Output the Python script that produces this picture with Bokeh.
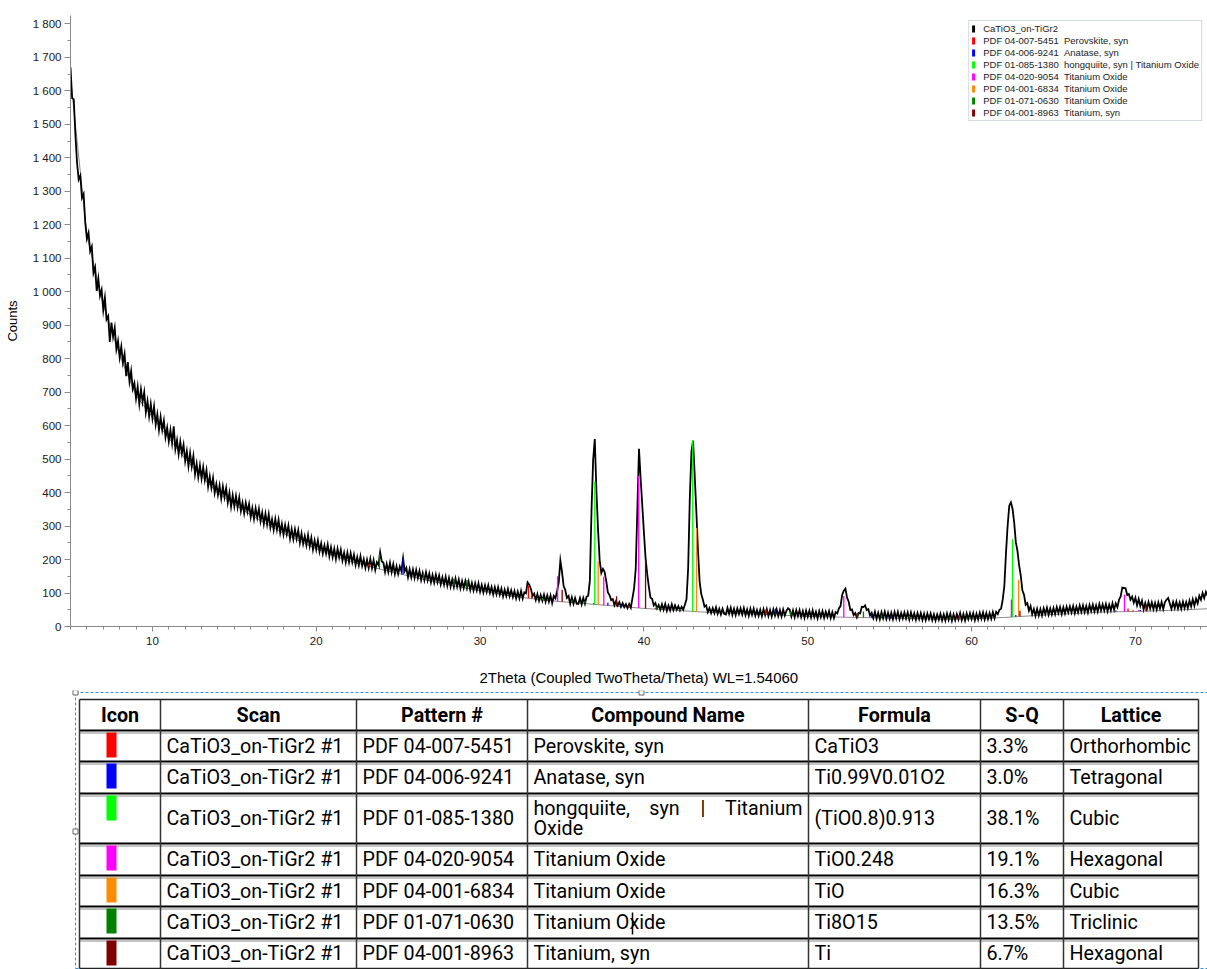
import numpy as np
from bokeh.plotting import figure
from bokeh.models import (Range1d, SingleIntervalTicker, CustomJSTickFormatter,
                          Legend, LegendItem, ColumnDataSource)
from bokeh.layouts import column
from bokeh.core.properties import value
from bokeh.embed import file_html
from bokeh.resources import INLINE

# ---------------- data ----------------
theta_start = 5.0
theta_step = 0.1
# measured counts, one row per degree (x.0 ... x.9), 5.0 .. 74.4
scan_counts = [
    [1670, 1578, 1575, 1468, 1385, 1335, 1347, 1280, 1292, 1207],  # 5
    [1158, 1176, 1121, 1135, 1056, 1073, 1002, 1039, 988, 1006],   # 6
    [945, 982, 917, 927, 850, 908, 865, 892, 828, 853],            # 7
    [804, 836, 788, 814, 748, 790, 732, 763, 710, 727],            # 8
    [681, 716, 665, 708, 671, 700, 640, 673, 628, 665],            # 9
    [622, 657, 604, 634, 587, 626, 587, 615, 566, 594],            # 10
    [553, 587, 548, 598, 530, 557, 515, 552, 517, 543],            # 11
    [494, 524, 479, 518, 478, 509, 455, 486, 446, 481],            # 12
    [442, 476, 438, 467, 418, 448, 414, 444, 399, 425],            # 13
    [393, 421, 383, 418, 386, 413, 370, 399, 358, 392],            # 14
    [359, 390, 356, 385, 345, 370, 338, 369, 342, 366],            # 15
    [327, 354, 321, 353, 325, 351, 314, 340, 306, 337],            # 16
    [305, 335, 296, 320, 289, 321, 290, 318, 280, 306],            # 17
    [275, 303, 276, 301, 263, 291, 261, 290, 262, 287],            # 18
    [250, 278, 247, 270, 243, 273, 240, 265, 230, 257],            # 19
    [230, 257, 224, 248, 218, 242, 218, 244, 210, 236],            # 20
    [207, 232, 202, 232, 206, 229, 197, 220, 192, 220],            # 21
    [192, 219, 192, 214, 184, 207, 183, 210, 181, 201],            # 22
    [175, 199, 175, 202, 174, 198, 169, 192, 184, 222],            # 23
    [194, 191, 163, 187, 163, 190, 162, 186, 157, 180],            # 24
    [157, 179, 165, 204, 165, 175, 147, 171, 147, 170],            # 25
    [145, 169, 145, 166, 139, 160, 138, 162, 138, 158],            # 26
    [132, 154, 131, 155, 132, 152, 126, 147, 125, 148],            # 27
    [122, 145, 119, 140, 118, 143, 119, 140, 114, 136],            # 28
    [115, 136, 114, 134, 109, 130, 108, 129, 108, 129],            # 29
    [104, 124, 102, 123, 103, 123, 100, 118, 96, 117],             # 30
    [96, 117, 95, 113, 90, 110, 91, 112, 90, 108],                 # 31
    [88, 106, 84, 104, 84, 106, 84, 102, 99, 132],                 # 32
    [125, 113, 91, 98, 79, 97, 77, 94, 77, 95],                    # 33
    [74, 93, 74, 93, 70, 91, 84, 106, 131, 197],                   # 34
    [163, 121, 109, 85, 91, 68, 87, 68, 85, 68],                   # 35
    [68, 85, 66, 85, 68, 89, 92, 137, 344, 497],                   # 36
    [560, 407, 290, 197, 160, 172, 163, 136, 102, 94],             # 37
    [79, 82, 64, 76, 63, 73, 59, 70, 58, 67],                      # 38
    [55, 67, 56, 85, 114, 172, 352, 531, 442, 362],                # 39
    [281, 204, 157, 119, 86, 83, 63, 70, 54, 64],                  # 40
    [50, 66, 50, 67, 47, 63, 48, 66, 49, 63],                      # 41
    [50, 61, 48, 59, 50, 65, 81, 173, 382, 522],                   # 42
    [555, 452, 344, 228, 135, 97, 80, 59, 63, 43],                 # 43
    [55, 40, 55, 40, 57, 38, 53, 36, 53, 38],                      # 44
    [36, 56, 38, 56, 35, 53, 34, 54, 37, 54],                      # 45
    [36, 55, 34, 51, 32, 53, 35, 53, 32, 49],                      # 46
    [32, 50, 31, 52, 34, 52, 31, 49, 30, 51],                      # 47
    [33, 51, 31, 49, 30, 51, 33, 47, 55, 50],                      # 48
    [30, 48, 28, 49, 31, 49, 28, 46, 26, 47],                      # 49
    [29, 47, 27, 48, 28, 44, 25, 46, 28, 46],                      # 50
    [26, 44, 28, 46, 25, 43, 25, 43, 39, 54],                      # 51
    [61, 94, 107, 113, 86, 74, 49, 51, 34, 40],                    # 52
    [27, 40, 39, 59, 58, 63, 49, 52, 33, 41],                      # 53
    [25, 44, 23, 41, 22, 43, 25, 44, 23, 41],                      # 54
    [23, 41, 22, 43, 24, 43, 22, 40, 24, 42],                      # 55
    [24, 42, 21, 42, 23, 39, 20, 40, 22, 40],                      # 56
    [20, 38, 19, 39, 22, 39, 19, 36, 18, 36],                      # 57
    [20, 38, 18, 36, 18, 39, 20, 38, 17, 36],                      # 58
    [19, 37, 21, 40, 19, 37, 18, 39, 22, 40],                      # 59
    [22, 40, 19, 38, 21, 41, 23, 42, 21, 40],                      # 60
    [22, 40, 23, 43, 25, 44, 37, 50, 53, 80],                      # 61
    [121, 220, 300, 361, 371, 352, 311, 252, 226, 183],            # 62
    [153, 108, 95, 65, 70, 47, 61, 37, 52, 32],                    # 63
    [53, 33, 52, 33, 54, 37, 56, 35, 54, 36],                      # 64
    [55, 37, 58, 40, 58, 37, 57, 39, 59, 42],                      # 65
    [60, 42, 61, 40, 59, 42, 63, 44, 63, 43],                      # 66
    [61, 42, 64, 46, 65, 45, 63, 45, 67, 48],                      # 67
    [66, 48, 67, 46, 65, 48, 69, 50, 69, 58],                      # 68
    [80, 90, 116, 115, 114, 94, 97, 80, 89, 71],                   # 69
    [86, 63, 82, 61, 77, 51, 70, 52, 73, 54],                      # 70
    [72, 52, 70, 51, 72, 54, 73, 52, 73, 80],                      # 71
    [85, 69, 53, 73, 55, 74, 54, 72, 53, 74],                      # 72
    [55, 73, 55, 77, 60, 81, 62, 83, 69, 92],                      # 73
    [80, 100, 85, 103, 92],                                        # 74
]

# fitted background (thin grey line)
bg_theta = [5, 6, 7, 8, 9, 10, 12, 14, 16, 18, 20, 22, 24, 26, 28, 30, 32, 34, 36, 38,
            40, 42, 44, 46, 48, 50, 52, 54, 56, 58, 60, 62, 64, 66, 68, 70, 72, 74.4]
bg_counts = [1640, 1170, 960, 810, 690, 625, 500, 398, 333, 278, 232, 195, 170, 147, 125,
             107, 90, 78, 70, 62, 54, 48, 42, 38, 35, 30, 28, 26, 24, 22, 23, 27, 33, 38,
             43, 45, 48, 53]

scan_label = "CaTiO3_on-TiGr2"
icon_colors = ["#ff0000", "#0000ff", "#00ff00", "#ff00ff", "#ff8c00", "#008000", "#800000"]
scan_names = ["CaTiO3_on-TiGr2 #1"] * 7
pattern_ids = ["PDF 04-007-5451", "PDF 04-006-9241", "PDF 01-085-1380", "PDF 04-020-9054",
               "PDF 04-001-6834", "PDF 01-071-0630", "PDF 04-001-8963"]
compound_names = ["Perovskite, syn", "Anatase, syn", "hongquiite, syn | Titanium Oxide",
                  "Titanium Oxide", "Titanium Oxide", "Titanium Oxide", "Titanium, syn"]
formulas = ["CaTiO3", "Ti0.99V0.01O2", "(TiO0.8)0.913", "TiO0.248", "TiO", "Ti8O15", "Ti"]
sq_values = ["3.3%", "3.0%", "38.1%", "19.1%", "16.3%", "13.5%", "6.7%"]
lattices = ["Orthorhombic", "Tetragonal", "Cubic", "Hexagonal", "Cubic", "Triclinic", "Hexagonal"]
header_labels = ["Icon", "Scan", "Pattern #", "Compound Name", "Formula", "S-Q", "Lattice"]

# reference stick patterns: 2theta positions and heights above background
stick_positions = [
    [23.2, 32.95, 33.15, 39.1, 40.7, 47.45, 58.9, 59.25, 69.55, 69.85],
    [25.3, 36.95, 37.8, 38.6, 48.03, 53.9, 55.1, 62.7, 68.8, 70.3],
    [37.0, 42.98, 62.5],
    [34.73, 37.55, 39.68, 52.2, 62.43, 69.33, 70.2],
    [37.21, 43.21, 62.87],
    [23.86, 26.55, 28.4, 29.2, 33.8, 35.6, 36.4, 40.8, 42.2, 48.95, 53.05, 53.4,
     54.5, 56.2, 58.7, 60.1],
    [35.01, 38.33, 40.1, 53.0, 62.95, 70.65],
]
stick_heights = [
    [6, 38, 14, 5, 4, 15, 4, 10, 9, 4],
    [50, 4, 8, 4, 19, 8, 8, 5, 4, 4],
    [366, 511, 232],
    [75, 85, 395, 63, 52, 51, 4],
    [130, 250, 110],
    [45, 18, 22, 25, 6, 8, 8, 8, 5, 12, 12, 18, 10, 8, 6, 5],
    [36, 30, 146, 12, 17, 18],
]

# ---------------- chart ----------------
counts = np.array([v for row in scan_counts for v in row], dtype=float)
theta = np.round(theta_start + theta_step * np.arange(len(counts)), 2)

TICK_FONT = "Liberation Sans"
p = figure(width=1207, height=690, x_range=Range1d(5, 74.4), y_range=Range1d(0, 1825),
           output_backend="svg", toolbar_location=None,
           min_border_left=70, min_border_right=0, min_border_top=15, min_border_bottom=64)
p.outline_line_color = None
p.grid.visible = False

p.line(bg_theta, bg_counts, line_color="#8c8c8c", line_width=1)
p.line(theta, counts, line_color="black", line_width=1.8, line_join="miter")

phase_renderers = []
for i, col in enumerate(icon_colors):
    pos = np.array(stick_positions[i], dtype=float)
    hgt = np.array(stick_heights[i], dtype=float)
    base = np.interp(pos, bg_theta, bg_counts)
    src = ColumnDataSource(dict(x=pos, bottom=base, top=base + hgt))
    r = p.vbar(x="x", bottom="bottom", top="top", width=0.08, source=src,
               fill_color=col, line_color=None)
    phase_renderers.append(r)
# zero-height black key, only used for the scan's legend entry
scan_key = p.vbar(x=[theta_start], bottom=[0], top=[0], width=0.07,
                  fill_color="black", line_color=None)

items = [LegendItem(label=scan_label, renderers=[scan_key])]
for i, r in enumerate(phase_renderers):
    items.append(LegendItem(label=pattern_ids[i] + " \u00a0" + compound_names[i], renderers=[r]))
legend = Legend(items=items, location="top_right", margin=5, padding=2, spacing=1,
                glyph_width=4, glyph_height=9, label_height=9, label_standoff=8,
                label_text_font=TICK_FONT, label_text_font_size="9.5px",
                label_text_color="#222222", border_line_color="#a8b4c8",
                border_line_width=1, background_fill_color="white", background_fill_alpha=1)
p.add_layout(legend)

xa = p.xaxis[0]
xa.ticker = SingleIntervalTicker(interval=10, num_minor_ticks=10)
xa.axis_label = "2Theta (Coupled TwoTheta/Theta) WL=1.54060"
ya = p.yaxis[0]
ya.ticker = SingleIntervalTicker(interval=100, num_minor_ticks=2)
ya.axis_label = "Counts"
ya.formatter = CustomJSTickFormatter(code="""
const s = Math.round(tick).toString();
return s.length > 3 ? s.slice(0, s.length - 3) + ' ' + s.slice(-3) : s;
""")
for ax in (xa, ya):
    ax.axis_line_color = "#8a8a8a"
    ax.major_tick_line_color = "#8a8a8a"
    ax.minor_tick_line_color = "#8a8a8a"
    ax.major_tick_in = 0
    ax.minor_tick_in = 0
    ax.minor_tick_out = 3
    ax.major_label_text_font = TICK_FONT
    ax.major_label_text_font_size = "11.5px"
    ax.major_label_text_color = "#1a1a1a"
    ax.axis_label_text_font = TICK_FONT
    ax.axis_label_text_font_style = "normal"
    ax.axis_label_text_color = "#000000"
xa.major_tick_out = 5
xa.major_label_standoff = 5
xa.axis_label_text_font_size = "15px"
xa.axis_label_standoff = 21
ya.major_tick_out = 6
ya.major_label_standoff = 3
ya.axis_label_text_font_size = "13px"
ya.axis_label_standoff = 10

# ---------------- table ----------------
col_edges = [79, 160, 356, 527, 808, 980, 1063, 1198]
row_edges = [699, 730, 761, 793, 843, 875, 906, 938, 968]
FS = 19.7
PAD = 6
WRAP_COL = 2  # only the compound-name column wraps

t = figure(width=1207, height=279, x_range=Range1d(70, 1207), y_range=Range1d(969, 690),
           x_axis_type=None, y_axis_type=None, output_backend="svg",
           toolbar_location=None, min_border_left=70, min_border_right=0,
           min_border_top=0, min_border_bottom=0)
t.outline_line_color = None
t.grid.visible = False

# selection frame around the table
t.segment(x0=[75, 75, 75], y0=[692, 692, 968], x1=[1207, 75, 1207], y1=[692, 968, 968],
          line_color="#3c8fd6", line_width=1, line_dash="3 2")
t.rect(x=[75, 641, 75], y=[692, 692, 831], width=5, height=5, width_units="screen",
       height_units="screen", fill_color="white", line_color="#666666", line_width=1)

# grid lines
inner = row_edges[1:-1]
t.segment(x0=[col_edges[0]] * len(inner), x1=[col_edges[-1]] * len(inner), y0=inner, y1=inner,
          line_color="#000000", line_width=2)
t.segment(x0=[col_edges[0]] * len(inner), x1=[col_edges[-1]] * len(inner),
          y0=[y + 2.5 for y in inner], y1=[y + 2.5 for y in inner],
          line_color="#8a8a8a", line_width=1)
t.segment(x0=[col_edges[0]] * 2, x1=[col_edges[-1]] * 2, y0=[row_edges[0], row_edges[-1]],
          y1=[row_edges[0], row_edges[-1]], line_color="#222222", line_width=1.5)
t.segment(x0=col_edges, x1=col_edges, y0=[row_edges[0]] * len(col_edges),
          y1=[row_edges[-1]] * len(col_edges), line_color="#333333", line_width=1.5)
# text cursor visible after the "O" of "Titanium Oxide" in the Ti8O15 row
t.segment(x0=[632], x1=[632], y0=[row_edges[6] + 6], y1=[row_edges[7] - 4],
          line_color="#000000", line_width=1.5)

# icons
icon_x = 111
t.quad(left=[icon_x - 5] * 7, right=[icon_x + 5] * 7,
       top=[row_edges[i + 1] + 2 for i in range(7)],
       bottom=[row_edges[i + 1] + 27 for i in range(7)],
       fill_color=icon_colors, line_color=None)


def est_width(word):
    w = 0.0
    for ch in word:
        if ch in "il|,.'I!":
            w += 0.25
        elif ch in "tfrj()-":
            w += 0.3
        elif ch in "mwMW":
            w += 0.86
        elif ch.isupper() or ch in "#%":
            w += 0.64
        else:
            w += 0.54
    return w * FS


def wrap(txt, avail):
    words = txt.split(" ")
    lines, cur = [], []
    for w in words:
        trial = cur + [w]
        wid = sum(est_width(x) for x in trial) + 0.25 * FS * (len(trial) - 1)
        if cur and wid > avail:
            lines.append(cur)
            cur = [w]
        else:
            cur = trial
    lines.append(cur)
    return lines


L = dict(x=[], y=[], text=[])
C = dict(x=[], y=[], text=[])
R = dict(x=[], y=[], text=[])
for i in range(7):
    top, bot = row_edges[i + 1], row_edges[i + 2]
    ym = (top + bot) / 2
    cells = [scan_names[i], pattern_ids[i], compound_names[i], formulas[i], sq_values[i], lattices[i]]
    for j, txt in enumerate(cells):
        cl = col_edges[j + 1] + PAD
        cr = col_edges[j + 2] - PAD
        lines = wrap(txt, cr - cl) if j == WRAP_COL else [txt.split(" ")]
        n = len(lines)
        for k, words in enumerate(lines):
            yk = ym + (k - (n - 1) / 2) * 20
            if k < n - 1 and len(words) > 1:
                widths = [est_width(w) for w in words]
                gap = ((cr - cl) - sum(widths)) / (len(words) - 1)
                L["x"].append(cl); L["y"].append(yk); L["text"].append(words[0])
                R["x"].append(cr); R["y"].append(yk); R["text"].append(words[-1])
                xc = cl + widths[0] + gap
                for w, wd in zip(words[1:-1], widths[1:-1]):
                    C["x"].append(xc + wd / 2); C["y"].append(yk); C["text"].append(w)
                    xc += wd + gap
            else:
                L["x"].append(cl); L["y"].append(yk); L["text"].append(" ".join(words))

common = dict(text_font=value("Roboto"), text_font_size=f"{FS}px", text_color="#000000",
              text_baseline="middle")
t.text(x="x", y="y", text="text", source=ColumnDataSource(L), text_align="left", **common)
t.text(x="x", y="y", text="text", source=ColumnDataSource(C), text_align="center", **common)
t.text(x="x", y="y", text="text", source=ColumnDataSource(R), text_align="right", **common)

hx = [(col_edges[j] + col_edges[j + 1]) / 2 for j in range(7)]
hy = [(row_edges[0] + row_edges[1]) / 2] * 7
t.text(x=hx, y=hy, text=header_labels, text_align="center", text_font_style="bold", **common)

layout = column(p, t)
open("out.html", "w").write(file_html(layout, INLINE))
